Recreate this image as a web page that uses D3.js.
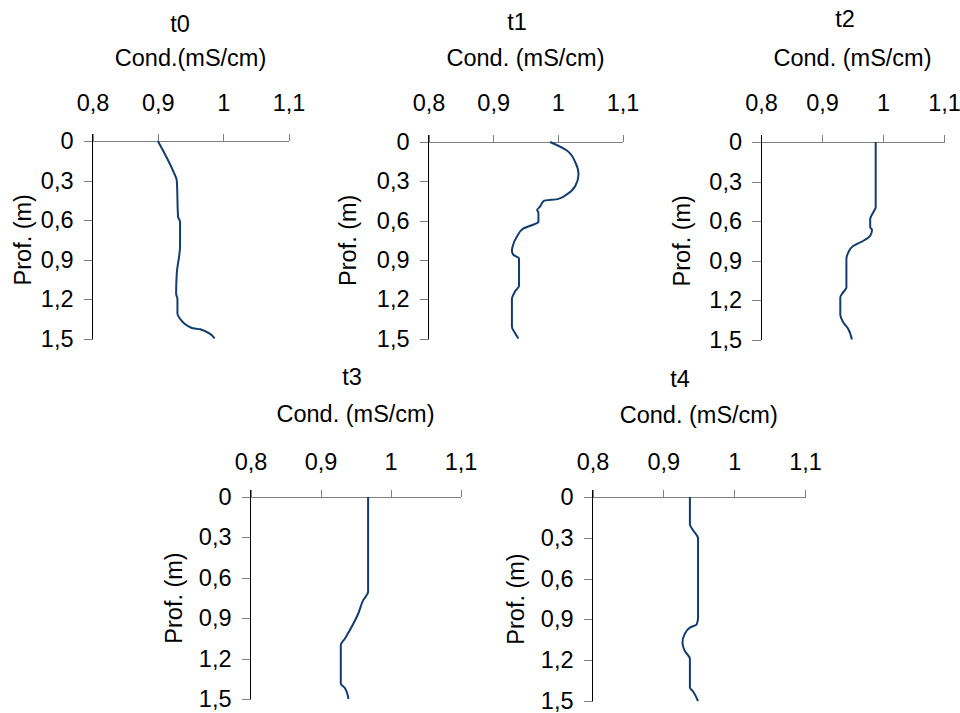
<!DOCTYPE html>
<html lang="en">
<head>
    <meta charset="UTF-8">
    <script src="https://d3js.org/d3.v7.min.js"></script>
    <style>
        body { margin: 0; background: #fff; }
        svg text { font-family: "Liberation Sans", Arial, sans-serif; fill: #000; }
        .axis path, .axis line { shape-rendering: crispEdges; }
    </style>
</head>
<body>
<div id="chart_area"></div>
<script>
    // conductivity profiles
    var condTicks = [0.8, 0.9, 1, 1.1];
    var depthTicks = [0, 0.3, 0.6, 0.9, 1.2, 1.5];

    var t0Depth = [0, 0.235, 0.30, 0.576, 0.615, 0.80, 1.005, 1.16, 1.20, 1.31, 1.35, 1.42, 1.43, 1.5];
    var t0Cond  = [0.900, 0.924, 0.929, 0.931, 0.934, 0.934, 0.929, 0.928, 0.930, 0.930, 0.934, 0.952, 0.965, 0.987];

    var t1Depth = [0, 0.065, 0.155, 0.246, 0.336, 0.40, 0.434, 0.45, 0.49, 0.52, 0.54, 0.61, 0.625, 0.66, 0.72, 0.80, 0.83, 0.86, 0.89, 1.097, 1.14, 1.20, 1.41, 1.46, 1.5];
    var t1Cond  = [0.988, 1.014, 1.027, 1.032, 1.027, 1.014, 1.001, 0.978, 0.973, 0.968, 0.970, 0.970, 0.965, 0.947, 0.937, 0.930, 0.929, 0.931, 0.940, 0.940, 0.934, 0.929, 0.929, 0.934, 0.939];

    var t2Depth = [0, 0.496, 0.534, 0.585, 0.648, 0.666, 0.712, 0.75, 0.79, 0.84, 0.89, 1.106, 1.14, 1.18, 1.31, 1.37, 1.42, 1.5];
    var t2Cond  = [0.988, 0.988, 0.984, 0.979, 0.979, 0.982, 0.979, 0.968, 0.951, 0.943, 0.940, 0.940, 0.935, 0.930, 0.930, 0.935, 0.943, 0.949];

    var t3Depth = [0, 0.704, 0.766, 0.865, 0.988, 1.05, 1.10, 1.384, 1.42, 1.5];
    var t3Cond  = [0.968, 0.968, 0.961, 0.954, 0.942, 0.935, 0.929, 0.929, 0.935, 0.940];

    var t4Depth = [0, 0.20, 0.245, 0.304, 0.887, 0.936, 0.96, 1.01, 1.07, 1.13, 1.19, 1.40, 1.43, 1.5];
    var t4Cond  = [0.9375, 0.9375, 0.942, 0.949, 0.949, 0.947, 0.9375, 0.930, 0.927, 0.930, 0.9375, 0.9375, 0.942, 0.949];

    var panels = [
        { title: "t0", label: "Cond.(mS/cm)",  depth: t0Depth, cond: t0Cond, left: 92.5,  right: 288.5, top: 141, bottom: 338.5, titleX: 180, titleY: 32,  labelY: 66,  tickY: 111, profX: -70 },
        { title: "t1", label: "Cond. (mS/cm)", depth: t1Depth, cond: t1Cond, left: 428.5, right: 622.5, top: 142, bottom: 338.5, titleX: 517, titleY: 30,  labelY: 66,  tickY: 111, profX: -81 },
        { title: "t2", label: "Cond. (mS/cm)", depth: t2Depth, cond: t2Cond, left: 761,   right: 944,   top: 142, bottom: 339.5, titleX: 845, titleY: 27,  labelY: 66,  tickY: 111, profX: -79 },
        { title: "t3", label: "Cond. (mS/cm)", depth: t3Depth, cond: t3Cond, left: 250.5, right: 460.5, top: 497, bottom: 699,   titleX: 352, titleY: 385, labelY: 422, tickY: 470, profX: -77 },
        { title: "t4", label: "Cond. (mS/cm)", depth: t4Depth, cond: t4Cond, left: 592.5, right: 805,   top: 497, bottom: 701,   titleX: 680, titleY: 387, labelY: 423, tickY: 470, profX: -77 }
    ];

    var fontSize = "23.5px";
    var fmt = function (d) { return String(d).replace(".", ","); };

    var svg = d3.select("#chart_area")
        .append("svg")
        .attr("width", 960)
        .attr("height", 713);

    panels.forEach(function (p) {
        var x = d3.scaleLinear().domain([0.8, 1.1]).range([p.left, p.right]);
        var y = d3.scaleLinear().domain([0, 1.5]).range([p.top, p.bottom]);
        var g = svg.append("g");

        // top (x) axis, gray, ticks outward (up)
        var xa = g.append("g")
            .attr("class", "axis")
            .attr("transform", "translate(0," + p.top + ")")
            .call(d3.axisTop(x).tickValues(condTicks).tickSize(7).tickSizeOuter(0).tickFormat(fmt));
        xa.select(".domain").attr("stroke", "#808080");
        xa.selectAll(".tick line").attr("stroke", "#808080");
        xa.selectAll(".tick text")
            .attr("y", null).attr("dy", null)
            .attr("transform", "translate(0," + (p.tickY - p.top) + ")")
            .style("font-size", fontSize);

        // left (y) axis
        var ya = g.append("g")
            .attr("class", "axis")
            .attr("transform", "translate(" + p.left + ",0)")
            .call(d3.axisLeft(y).tickValues(depthTicks).tickSize(9).tickSizeOuter(0).tickPadding(10).tickFormat(fmt));
        ya.select(".domain").remove();
        ya.selectAll(".tick line").attr("stroke", "#808080");
        ya.selectAll(".tick text").style("font-size", fontSize);
        // black vertical line, reaches up to the 0,8 tick
        g.append("line")
            .attr("x1", x(0.8)).attr("x2", x(0.8))
            .attr("y1", p.top - 7).attr("y2", y(1.5))
            .attr("stroke", "#000")
            .attr("stroke-width", 1)
            .style("shape-rendering", "crispEdges");

        // profile
        var pts = p.depth.map(function (d, i) { return [p.cond[i], d]; });
        g.append("path")
            .datum(pts)
            .attr("fill", "none")
            .attr("stroke", "#123d6e")
            .attr("stroke-width", 2)
            .attr("stroke-linejoin", "round")
            .attr("d", d3.line()
                .x(function (d) { return x(d[0]); })
                .y(function (d) { return y(d[1]); })
                .curve(d3.curveMonotoneY));

        // titles
        g.append("text")
            .attr("x", p.titleX).attr("y", p.titleY)
            .attr("text-anchor", "middle")
            .style("font-size", fontSize)
            .text(p.title);
        g.append("text")
            .attr("x", (p.left + p.right) / 2).attr("y", p.labelY)
            .attr("text-anchor", "middle")
            .style("font-size", fontSize)
            .text(p.label);
        g.append("text")
            .attr("transform", "translate(" + (p.left + p.profX) + "," + ((p.top + p.bottom) / 2) + ") rotate(-90)")
            .attr("text-anchor", "middle")
            .attr("dy", "0.35em")
            .style("font-size", fontSize)
            .text("Prof. (m)");
    });
</script>
</body>
</html>
